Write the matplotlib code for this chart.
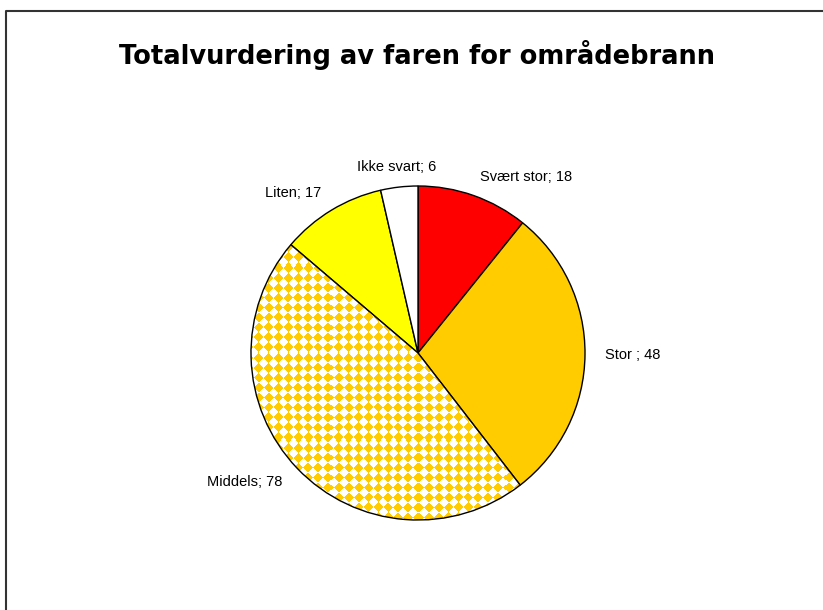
import matplotlib
matplotlib.use('Agg')
import matplotlib.pyplot as plt
from matplotlib.lines import Line2D
import numpy as np

# data
categories = ['Svært stor', 'Stor ', 'Middels', 'Liten', 'Ikke svart']
values = [18, 48, 78, 17, 6]
colors = ['#FF0000', '#FFCC00', '#FFFFFF', '#FFFF00', '#FFFFFF']
title = 'Totalvurdering av faren for områdebrann'

plt.rcParams['font.family'] = ['Liberation Sans', 'DejaVu Sans']

fig = plt.figure(figsize=(8.23, 6.10), dpi=100)
fig.patch.set_facecolor('white')

# pie axes: centre ~ (418, 353) px, radius ~167 px
r_px = 167
cx, cy = 418 / 823, (610 - 353) / 610
w = 2 * r_px * 1.2 / 823
h = 2 * r_px * 1.2 / 610
ax = fig.add_axes([cx - w / 2, cy - h / 2, w, h])

labels = [f'{c}; {v}' for c, v in zip(categories, values)]
wedges, texts = ax.pie(values, colors=colors, startangle=90, counterclock=False,
                       labels=labels, labeldistance=1.12,
                       wedgeprops=dict(edgecolor='black', linewidth=1.0),
                       textprops=dict(fontsize=10.5))
ax.set_xlim(-1.2, 1.2)
ax.set_ylim(-1.2, 1.2)
ax.set_aspect('equal')
ax.axis('off')

# diamond checker fill for "Middels"
p = 10 / r_px
g = np.linspace(-1.05, 1.05, 1400)
X, Y = np.meshgrid(g, g)
chk = (np.floor((X + Y) / p) + np.floor((X - Y) / p)) % 2
img = np.ones(chk.shape + (3,))
img[chk == 1] = [1.0, 0.8, 0.0]
im = ax.imshow(img, extent=[-1.05, 1.05, -1.05, 1.05], origin='lower',
               interpolation='nearest', zorder=wedges[2].get_zorder() + 0.1)
im.set_clip_path(wedges[2])
# redraw outline above the pattern
wedges[2].set_zorder(im.get_zorder() + 0.1)
wedges[2].set_facecolor('none')

texts[4].set_ha('center')

fig.text(417 / 823, 1 - 55 / 610, title, ha='center', va='center',
         fontsize=18.5, fontweight='bold', family='DejaVu Sans')

# outer frame (left and top visible)
fig.add_artist(Line2D([6 / 823, 6 / 823, 1], [0, 1 - 11 / 610, 1 - 11 / 610],
                      transform=fig.transFigure, color='#333333', linewidth=1.5))

fig.savefig('out.png', dpi=100)
